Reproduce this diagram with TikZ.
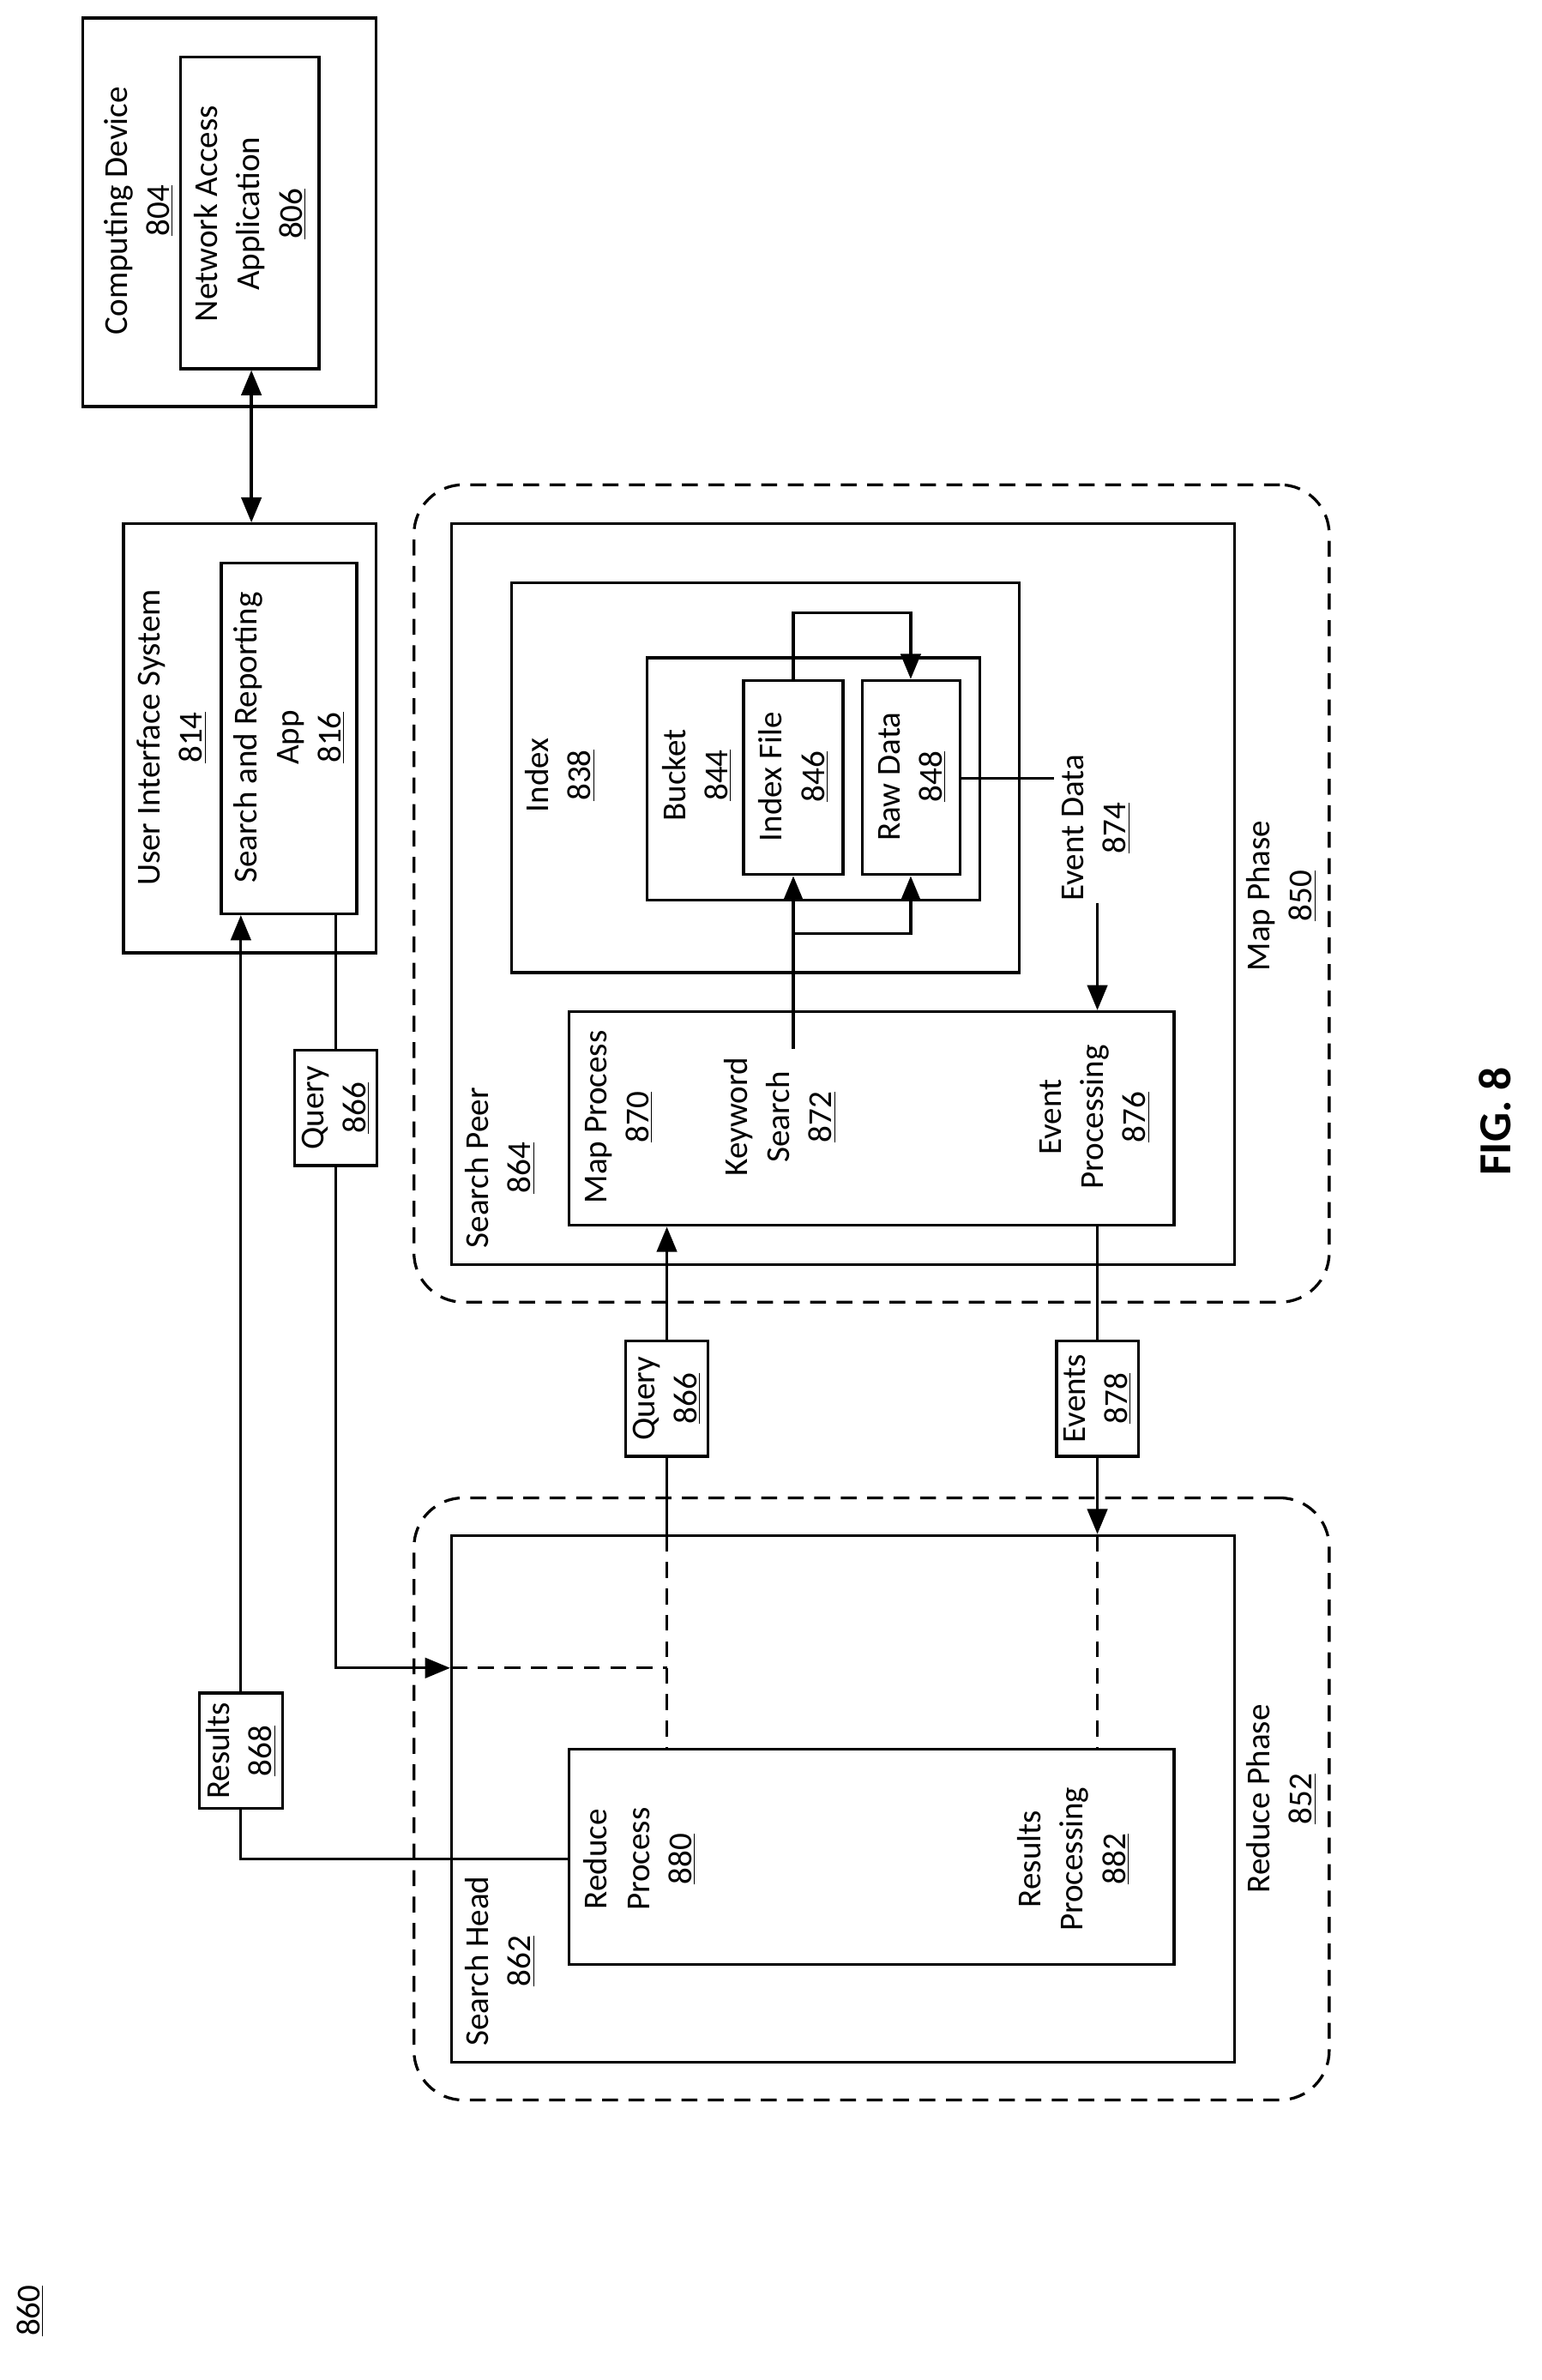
\documentclass[tikz,border=0pt]{standalone}
\usepackage{fontspec}
\setmainfont{Carlito}
\usetikzlibrary{arrows.meta, positioning, fit}

\begin{document}
\begin{tikzpicture}[x=0.03cm, y=-0.03cm, line width=1.6pt,
    box/.style={draw, inner sep=0pt},
    dsh/.style={dash pattern=on 9pt off 6pt},
    phase/.style={draw, dsh, rounded corners=28pt, inner sep=0pt},
    lbl/.style={rotate=90, align=center, font=\fontsize{19}{24}\selectfont},
    tag/.style={draw, fill=white, rotate=90, align=center, inner sep=4pt, font=\fontsize{19}{24}\selectfont},
    arr/.style={-{Triangle[length=5mm, width=4mm]}}]
    \useasboundingbox (0,0) rectangle (1024,1581);

    % Computing device and UI system
    \node[box, fit={(55,12)(250,270)}] (cd) {};
    \node[box, fit={(120,38)(212,245)}] (naa) {};
    \node[lbl] at (92,140) {Computing Device\\\underline{804}};
    \node[lbl] at (166,142) {Network Access\\Application\\\underline{806}};
    \node[box, fit={(82,348)(250,633)}] (uis) {};
    \node[box, fit={(147,374)(237,607)}] (sra) {};
    \node[lbl] at (114,490) {User Interface System\\\underline{814}};
    \node[lbl] at (192,490) {Search and Reporting\\App\\\underline{816}};
    \draw[{Triangle[length=5mm, width=4mm]}-{Triangle[length=5mm, width=4mm]}] (naa.south -| 167,0) -- (uis.north -| 167,0);

    % Map phase
    \node[phase, fit={(275,322)(883,865)}] (map) {};
    \node[lbl] at (851,595) {Map Phase\\\underline{850}};
    \node[box, fit={(300,348)(820,840)}] (peer) {};
    \node[lbl, anchor=west] at (332,834) {Search Peer\\\underline{864}};
    \node[box, fit={(340,387)(677,646)}] (idx) {};
    \node[lbl] at (372,515) {Index\\\underline{838}};
    \node[box, fit={(430,437)(651,598)}] (bkt) {};
    \node[lbl] at (463,515) {Bucket\\\underline{844}};
    \node[box, fit={(494,452)(560,581)}] (ifile) {};
    \node[lbl] at (527,516) {Index File\\\underline{846}};
    \node[box, fit={(573,452)(638,581)}] (raw) {};
    \node[lbl] at (606,516) {Raw Data\\\underline{848}};
    \node[box, fit={(378,672)(780,814)}] (mp) {};
    \node[lbl] at (411,742) {Map Process\\\underline{870}};
    \node[lbl] (kws) at (518,742) {Keyword\\Search\\\underline{872}};
    \node[lbl] at (727,742) {Event\\Processing\\\underline{876}};
    \node[lbl] (evd) at (728,550) {Event Data\\\underline{874}};

    \draw[arr] (ifile.north) -- (527,407) -- (605,407) -- (raw.north -| 605,0);
    \draw[arr] (527,697) -- (ifile.south);
    \draw[arr] (527,620) -- (605,620) -- (raw.south -| 605,0);
    \draw (raw.east |- 0,517) -- (700,517);
    \draw[arr] (729,600) -- (mp.north -| 729,0);

    % Reduce phase
    \node[phase, fit={(275,995)(883,1395)}] (red) {};
    \node[lbl] at (851,1195) {Reduce Phase\\\underline{852}};
    \node[box, fit={(300,1020)(820,1370)}] (head) {};
    \node[lbl, anchor=west] at (332,1364) {Search Head\\\underline{862}};
    \node[box, fit={(378,1162)(780,1305)}] (rp) {};
    \node[lbl] at (425,1235) {Reduce\\Process\\\underline{880}};
    \node[lbl] at (713,1235) {Results\\Processing\\\underline{882}};

    % Connectors between phases
    \draw[arr] (sra.south -| 223,0) -- (223,1108) -- (head.west |- 0,1108);
    \draw[dsh] (300,1108) -- (443,1108);
    \draw[dsh] (443,1020) -- (rp.north -| 443,0);
    \draw[arr] (443,1020) -- (mp.south -| 443,0);
    \draw[arr] (mp.south -| 729,0) -- (head.north -| 729,0);
    \draw[dsh] (729,1020) -- (rp.north -| 729,0);
    \draw[arr] (rp.west |- 0,1235) -- (160,1235) -- (sra.south -| 160,0);
    \node[tag, minimum width=2.3cm] (q1) at (223,736) {Query\\\underline{866}};
    \node[tag, minimum width=2.3cm] (q2) at (443,929) {Query\\\underline{866}};
    \node[tag, minimum width=2.3cm] (ev) at (729,929) {Events\\\underline{878}};
    \node[tag, minimum width=2.3cm] (res) at (160,1163) {Results\\\underline{868}};

    % Figure labels
    \node[rotate=90, font=\fontsize{26}{30}\selectfont\bfseries] (fig) at (993,745) {FIG. 8};
    \node[rotate=90, font=\fontsize{19}{24}\selectfont] (ref) at (20,1535) {\underline{860}};
\end{tikzpicture}
\end{document}
